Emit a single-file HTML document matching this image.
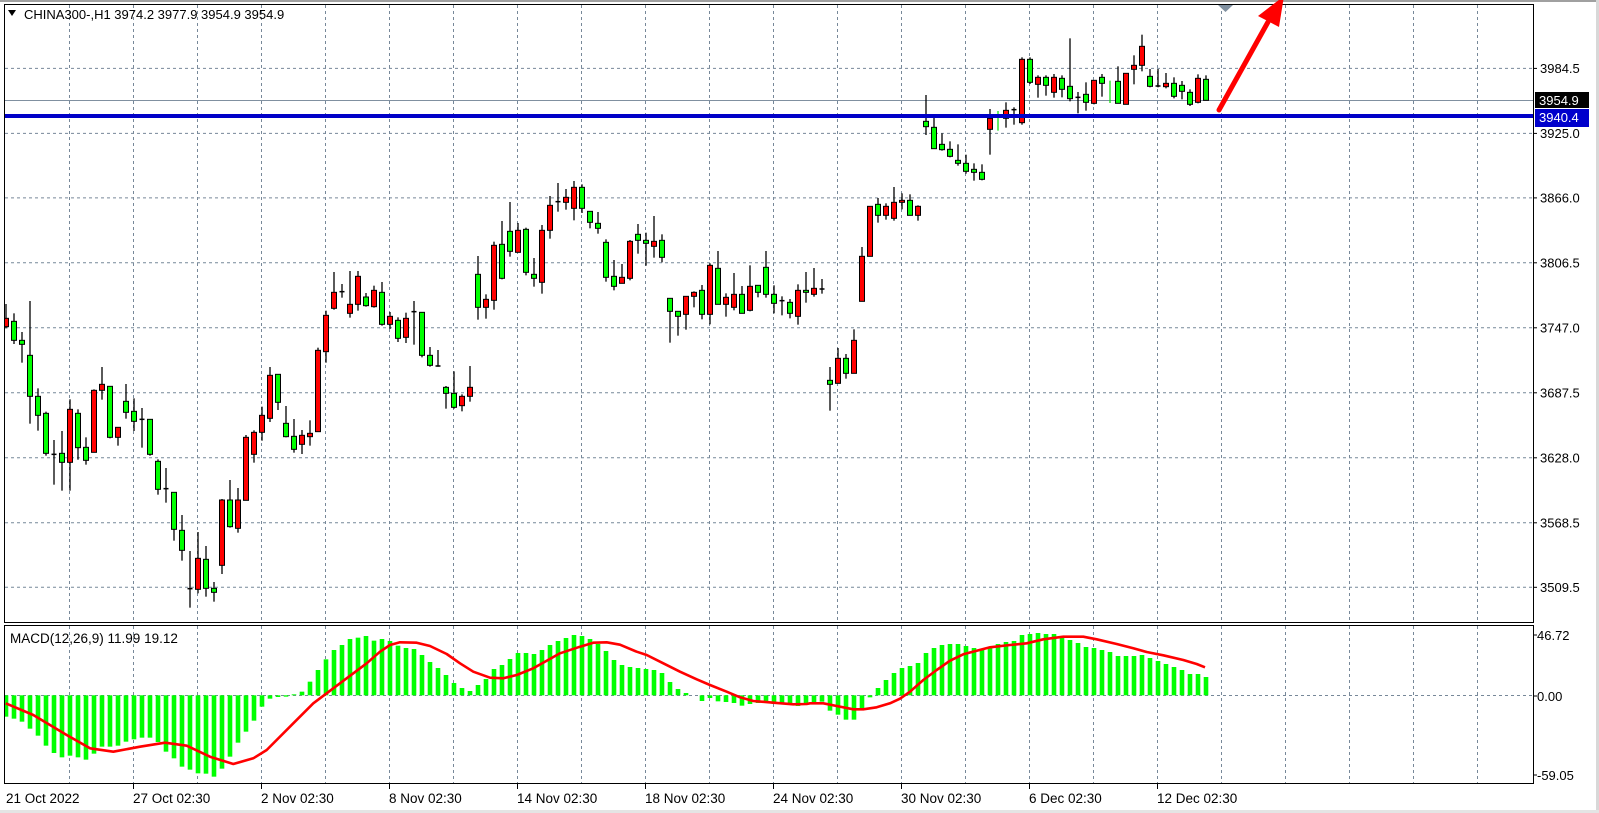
<!DOCTYPE html>
<html><head><meta charset="utf-8"><style>
html,body{margin:0;padding:0;background:#fff;width:1599px;height:813px;overflow:hidden}
svg{display:block}
text{font-family:"Liberation Sans",sans-serif;font-size:13px;fill:#000}
</style></head><body>
<svg id="s" width="1599" height="813" xmlns="http://www.w3.org/2000/svg">
<defs>
<clipPath id="cm"><rect x="5" y="5" width="1528" height="617"/></clipPath>
<clipPath id="cd"><rect x="5" y="626" width="1528" height="158"/></clipPath>
</defs>
<rect x="0" y="0" width="1599" height="2" fill="#a0a0a0"/>
<rect x="1596" y="0" width="3" height="813" fill="#d8d8d8"/>
<rect x="0" y="810" width="1599" height="3" fill="#e4e4e4"/>
<g id="grid" stroke="#778899" stroke-width="1" stroke-dasharray="3,3" fill="none"></g>
<line x1="5" y1="100.5" x2="1533" y2="100.5" stroke="#8090a0" stroke-width="1"/>
<g id="candles" clip-path="url(#cm)"></g>
<line x1="5" y1="116" x2="1533" y2="116" stroke="#0000c8" stroke-width="4"/>
<g id="macd" clip-path="url(#cd)"></g>
<rect x="4.5" y="4.5" width="1529" height="618" fill="none" stroke="#000"/>
<rect x="4.5" y="625.5" width="1529" height="158" fill="none" stroke="#000"/>
<g id="axis"></g>
<rect x="1535" y="92" width="54" height="16" fill="#000"/>
<text x="1539" y="105" style="fill:#fff">3954.9</text>
<rect x="1535" y="109" width="54" height="18" fill="#0000cc"/>
<text x="1539" y="122" style="fill:#fff">3940.4</text>
<polygon points="1218,5 1233,5 1225.5,12" fill="#8090a0"/>
<line x1="1219" y1="110" x2="1268" y2="22" stroke="#f00" stroke-width="5" stroke-linecap="round"/>
<polygon points="1284,-4 1258,16 1279,27" fill="#f00"/>
<polygon points="8,10 16,10 12,16" fill="#000"/>
<text x="24" y="19" style="font-size:13px">CHINA300-,H1  3974.2 3977.9 3954.9 3954.9</text>
<text x="10" y="643" style="font-size:13.5px">MACD(12,26,9) 11.99 19.12</text>
</svg>
<script>
var NS="http://www.w3.org/2000/svg";
function el(p,t,a){var e=document.createElementNS(NS,t);for(var k in a)e.setAttribute(k,a[k]);p.appendChild(e);return e;}
function txt(p,x,y,s,extra){var e=el(p,"text",Object.assign({x:x,y:y},extra||{}));e.textContent=s;return e;}
var g=document.getElementById("grid"),ax=document.getElementById("axis");
var lv=[["3984.5",67.9],["3925.0",132.9],["3866.0",197.4],["3806.5",262.3],["3747.0",327.3],["3687.5",392.3],["3628.0",457.3],["3568.5",522.3],["3509.5",586.8]];
lv.forEach(function(l){el(g,"line",{x1:5,y1:l[1]+.5,x2:1533,y2:l[1]+.5});
 el(ax,"line",{x1:1533,y1:l[1]+.5,x2:1537,y2:l[1]+.5,stroke:"#000"});
 txt(ax,1540,l[1]+5,l[0]);});
for(var x=69;x<1533;x+=64){el(g,"line",{x1:x+.5,y1:5,x2:x+.5,y2:622});el(g,"line",{x1:x+.5,y1:626,x2:x+.5,y2:784});}
el(g,"line",{x1:5,y1:695.5,x2:1533,y2:695.5});
[["46.72",635],["0.00",696],["-59.05",775]].forEach(function(l){txt(ax,1537,l[1]+5,l[0]);el(ax,"line",{x1:1533,y1:l[1],x2:1537,y2:l[1],stroke:"#000"});});
var dl=["21 Oct 2022","27 Oct 02:30","2 Nov 02:30","8 Nov 02:30","14 Nov 02:30","18 Nov 02:30","24 Nov 02:30","30 Nov 02:30","6 Dec 02:30","12 Dec 02:30"];
dl.forEach(function(s,k){var xx=k==0?6:133+128*(k-1);txt(ax,xx,803,s,{style:"font-size:13.5px"});if(k>0)el(ax,"line",{x1:xx+.5,y1:784,x2:xx+.5,y2:789,stroke:"#000"});});
var segs=[[260,0,[
"R 175 200 132 205","G 184 241 160 252","G 241 253 216 308","G 286 409 123 491","G 409 466 385 512","G 460 580 455 587","D 583 583 540 674","G 580 607 513 692","R 448 607 418 692","G 460 563 448 599","G 562 601 532 614","R 391 577 388 577","R 373 391 321 419","G 379 532 379 535","R 502 532 502 557","G 424 457 372 476","G 454 484 415 513","D 478 478 444 563","G 478 583 478 587","G 604 688 598 704","D 686 686 624 728","G 697 808 697 842","G 811 871 765 902","D 986 986 873 1043","R 895 988 816 1000","G 898 985 858 1010","G 985 997 966 1025","R 720 916 717 942","G 720 800 660 803","R 720 805 684 818","R 532 721 525 721","R 517 583 511 608","R 466 517 440 542","R 346 475 321 486","G 343 427 343 450","G 490 530 438 532","G 529 568 477 578","R 526 553 510 582","R 520 530 481 557","R 271 515 263 515"]],
[160,40,["R 466 575 452 608","R 397 445 336 449","D 395 395 372 413","R 433 460 333 473","R 349 433 333 452","G 411 437 399 440","R 391 440 377 443","G 397 493 366 497","R 469 493 456 507","G 481 535 472 546","R 475 532 458 549","D 455 455 423 554","G 457 586 457 592","G 586 616 561 620","D 618 618 570 620","G 682 700 678 746","G 700 742 634 746","R 709 737 703 754","R 682 709 618 725","G 343 442 288 479","R 418 442 403 476","R 256 421 245 449","G 253 355 183 358","G 214 274 126 290","R 211 277 189 277","G 208 337 203 346","G 343 355 294 380","R 211 367 195 401","R 136 211 108 236","D 125 125 69 155","R 112 127 87 149","R 82 145 63 181","G 82 145 73 159","G 154 187 154 205","G 190 205 156 221","G 247 352 238 365","G 349 379 300 391","R 352 370 312 370","R 244 355 240 361","G 223 241 192 281","G 241 250 218 317","R 244 259 168 293"]],
[170,82,["G 211 262 193 277","G 385 424 385 518","G 424 439 424 497","R 379 433 379 479","R 367 379 364 412","G 361 433 345 448","R 286 433 280 463","G 295 403 243 403","R 382 403 370 440","R 373 412 309 421","G 373 430 348 430","R 349 421 286 424","G 346 367 346 382","G 292 373 243 383","G 373 400 346 430","D 392 392 379 436","G 397 430 387 445","R 361 439 343 464","G 361 367 306 398","R 355 373 294 380","D 357 357 327 371","G 631 643 591 722","R 565 640 534 640","G 565 610 552 626","R 511 610 478 610","R 259 394 231 394","R 109 259 109 259","G 103 136 84 158","R 109 136 100 149","R 97 145 51 152","R 91 97 70 118","G 91 136 73 136","R 109 136 106 152"]],
[0,115,["G 364 380 285 405","G 382 446 354 446","G 433 449 400 452","G 448 469 424 472","G 481 490 433 497","G 490 514 464 521","G 508 517 490 542","G 517 538 493 541","R 355 388 327 464","L 333 392 333 392","R 331 355 307 383","D 329 329 322 374","R 178 368 172 374","G 178 247 172 252","R 232 253 226 293","G 232 256 226 287","R 232 277 222 293","G 235 268 226 292","G 259 296 115 304","D 292 292 276 340","G 283 307 247 332","R 241 310 241 313","G 232 250 222 290","L 242 309 242 309","G 244 310 199 310","R 220 313 220 313","R 196 208 166 253","R 139 196 104 214","G 229 259 207 262","D 258 258 207 262","R 250 260 219 265","G 250 289 232 295","G 256 274 243 298","G 277 313 268 318","R 235 307 223 310","G 238 301 226 301"]]];
var cg=document.getElementById("candles");
segs.forEach(function(sg){var y0=sg[0];sg[2].forEach(function(s,k){var i=sg[1]+k,p=s.split(" "),c=p[0];
 var bt=y0+p[1]/3,bb=y0+p[2]/3,wt=y0+p[3]/3,wb=y0+p[4]/3,cx=5.5+8*i+0.5;
 if(c=="L"){el(cg,"line",{x1:cx,y1:bt,x2:cx,y2:bb,stroke:"#00e000","stroke-width":1.2});return;}
 el(cg,"line",{x1:cx,y1:Math.min(wt,bt),x2:cx,y2:Math.max(wb,bb),stroke:"#000","stroke-width":1.3});
 if(c=="D"){el(cg,"line",{x1:cx-2.5,y1:bt,x2:cx+2.5,y2:bt,stroke:"#000","stroke-width":1.5});return;}
 el(cg,"rect",{x:cx-2.5,y:bt,width:5,height:Math.max(1,bb-bt),fill:c=="R"?"#ff0000":"#00ff00",stroke:"#000","stroke-width":1});
});});
var m=document.getElementById("macd");
var hA=[350,356,365,386,407,437,459,472,467,472,479,461,440,440,437,425,418,413,413,426,455,475,500,509,520,521,530,506,470,428,395,362,320,296,291,290,283,275,245,210,178,150,135,117,113,108,122];
var hB=[57,63,77,84,87,105,126,144,165,189,204,213,195,177,147,135,117,99,99,102,90,75,63,54,45,48,57,72,93,120,135,141,144,147,150,159,186,207,219,226,243,234,244,246,249,257,252,249,246,252,252,255,258,250];
var hC=[249,245,272,284,299,299,270,232,204,180,159,144,138,129,99,84,75,72,72,78,84,90,84,72,66,63,45,42,39,42,42,51,60,69,81,84,90,96,108,108,108,105,114,123,132,141,150,162,162,171];
var H=[];hA.forEach(function(v){H.push(600+v/3);});hB.forEach(function(v){H.push(620+v/3);});hC.forEach(function(v){H.push(620+v/3);});
var Z=695.3;
H.forEach(function(y,i){var cx=5.5+8*i+0.5;var t=Math.min(y,Z),b=Math.max(y,Z);if(b-t<0.8)return;el(m,"rect",{x:cx-2.3,y:t,width:4.6,height:b-t,fill:"#00ff00"});});
var sA=[[17,310],[100,345],[200,405],[270,445],[340,455],[420,440],[495,428],[560,437],[630,470],[700,492],[760,475],[800,450],[880,370],[940,310],[1000,265],[1100,190]];
var sB=[[0,95],[30,75],[60,67],[110,68],[150,78],[200,102],[240,130],[280,155],[330,173],[370,175],[410,165],[460,145],[500,122],[540,100],[600,80],[640,68],[680,67],[720,74],[770,95],[800,105],[850,130],[900,155],[950,178],[990,195],[1040,215],[1080,232],[1120,243],[1180,248],[1240,253],[1280,252]];
var sC=[[0,250],[40,250],[80,258],[130,268],[160,268],[200,262],[240,250],[270,236],[300,215],[340,180],[380,150],[420,122],[460,103],[500,92],[540,82],[600,75],[650,70],[700,58],[760,50],[820,50],[860,58],[920,72],[970,85],[1010,96],[1060,106],[1120,120],[1160,132],[1185,142]];
var pts=[];sA.forEach(function(p){pts.push([p[0]/3,600+p[1]/3]);});sB.forEach(function(p){pts.push([380+p[0]/3,620+p[1]/3]);});sC.forEach(function(p){pts.push([810+p[0]/3,620+p[1]/3]);});
el(m,"polyline",{points:pts.map(function(p){return p[0].toFixed(1)+","+p[1].toFixed(1);}).join(" "),fill:"none",stroke:"#ff0000","stroke-width":2.6,"stroke-linejoin":"round"});
</script>
</body></html>
